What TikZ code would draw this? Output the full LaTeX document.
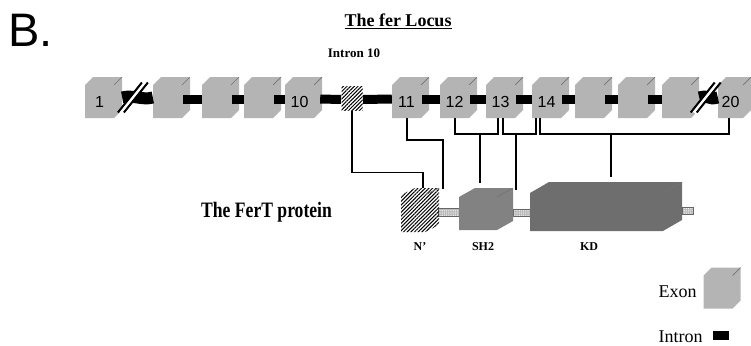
\documentclass[tikz,border=0pt]{standalone}
\usepackage{fontspec}
\setmainfont{Liberation Serif}
\setsansfont{Liberation Sans}
\usetikzlibrary{positioning, patterns.meta, calc}

\definecolor{exongray}{HTML}{B4B4B4}
\definecolor{shgray}{HTML}{828282}
\definecolor{kdgray}{HTML}{6E6E6E}

\begin{document}
\begin{tikzpicture}[
    x=1pt, y=-1pt,
    cube/.style n args={3}{
        inner sep=0pt,
        path picture={
            \fill[#3] ([yshift=-#2]path picture bounding box.north west)
                -- ([xshift=#1]path picture bounding box.north west)
                -- (path picture bounding box.north east)
                -- ([yshift=#2]path picture bounding box.south east)
                -- ([xshift=-#1]path picture bounding box.south east)
                -- (path picture bounding box.south west) -- cycle;
            \draw[facet] (path picture bounding box.north east) -- ++(-#1,-#2);
        },
    },
    facet/.style={draw=black!55, line width=0.7pt},
    exon/.style={minimum width=37pt, minimum height=41pt, cube={8pt}{8pt}{fill=exongray}},
    num/.style={font=\sffamily\fontsize{16}{16}\selectfont, inner sep=0pt, xshift=-4pt, yshift=-4pt},
    intron/.style={line width=9pt, transform canvas={yshift=-1.5pt}},
    wavy/.style={line width=12pt},
    slash/.style={line width=2pt},
    hatch/.style={pattern={Lines[angle=45, distance=2.6pt, line width=1pt]}, pattern color=black},
    link/.style={line width=1.8pt},
    linker/.style={
        inner sep=0pt, draw=black!60, line width=0.4pt,
        preaction={fill=gray!55},
        pattern={Dots[radius=0.6pt, distance=2.2pt]}, pattern color=white,
    },
    domlabel/.style={font=\bfseries\fontsize{12}{12}\selectfont, anchor=base},
    legend/.style={font=\fontsize{18}{18}\selectfont, inner sep=0pt},
]

\useasboundingbox (0,0) rectangle (751,345);

\node[font=\sffamily\fontsize{47}{47}\selectfont, anchor=base west, inner sep=0pt] (panel) at (8,47) {B.};
\node[font=\bfseries\fontsize{18}{18}\selectfont, anchor=base] (title) at (398,27) {\underline{The fer Locus}};
\node[font=\bfseries\fontsize{13}{13}\selectfont, anchor=base] (i10lab) at (354,57) {Intron 10};

% the locus
\def\row{97.5}
\node[exon, label={[num]center:1}] (e1) at (103.5,\row) {};
\node[exon] (e2) at (171.5,\row) {};
\node[exon] (e3) at (220.5,\row) {};
\node[exon] (e4) at (262.5,\row) {};
\node[exon, label={[num]center:10}] (e10) at (303.5,\row) {};
\node[hatch, minimum width=21pt, minimum height=24pt, inner sep=0pt] (i10) at (352,98) {};
\node[exon, label={[num]center:11}] (e11) at (410.5,\row) {};
\node[exon, label={[num]center:12}] (e12) at (458.5,\row) {};
\node[exon, label={[num]center:13}] (e13) at (504.5,\row) {};
\node[exon, label={[num]center:14}] (e14) at (550.5,\row) {};
\node[exon] (e15) at (593.5,\row) {};
\node[exon] (e16) at (636.5,\row) {};
\node[exon] (e17) at (680.5,\row) {};
\node[exon, minimum width=33pt, label={[num]center:20}] (e20) at (734.5,\row) {};

\foreach \a/\b in {e2/e3, e3/e4, e4/e10, e11/e12, e12/e13, e13/e14, e14/e15, e15/e16, e16/e17}
    \draw[intron] ([xshift=-7pt]\a.east) -- (\b.west);
\draw[intron] ([xshift=-2pt]e10.east) -- (i10.west);
\draw[intron] (i10.east) -- (e11.west);

% broken introns
\foreach \a/\b in {e1/e2, e17/e20} {
    \draw[wavy] (\a.east) .. controls +(10,-3) and +(-10,3) .. (\b.west);
    \path (\a.east) -- (\b.west) coordinate[pos=0.35] (brk);
    \draw[white, line width=5pt] ([shift={(-12pt,-15pt)}]brk) -- ([shift={(12pt,15pt)}]brk);
    \draw[slash] ([shift={(-15pt,-15pt)}]brk) -- ([shift={(9pt,15pt)}]brk);
    \draw[slash] ([shift={(-9pt,-15pt)}]brk) -- ([shift={(15pt,15pt)}]brk);
}

% the protein
\node[font=\bfseries\fontsize{22}{22}\selectfont, anchor=base west, inner sep=0pt] (protein) at (201,217) {\scalebox{0.8}[1]{The FerT protein}};

\node[linker, minimum width=21pt, minimum height=8pt] (l1) at (448.5,212) {};
\node[linker, minimum width=17pt, minimum height=7pt] (l2) at (521.5,212.5) {};
\node[linker, minimum width=11pt, minimum height=7pt] (l3) at (687.5,210.5) {};
\node[minimum width=38pt, minimum height=44pt, cube={14pt}{7pt}{hatch}] (nt) at (420,210) {};
\node[minimum width=54pt, minimum height=42pt, cube={16pt}{9pt}{fill=shgray}] (sh2) at (486,209) {};
\node[minimum width=152pt, minimum height=49pt, cube={19pt}{11pt}{fill=kdgray}] (kd) at (606,206.5) {};

\node[domlabel] (ntlab) at (420,250) {N’};
\node[domlabel] (shlab) at (483,250) {SH2};
\node[domlabel] (kdlab) at (589,250) {KD};

% exons to domains
\coordinate (j1) at (443,189);
\coordinate (j2) at (516,190);
\draw[link] (i10.south) -- ++(0,62) -| ([xshift=3pt]nt.north);
\draw[link] ([xshift=-3.5pt]e11.south) -- ++(0,22) -| (j1);
\draw[link] ([xshift=-3.5pt]e12.south) -- ++(0,16) -| ([xshift=-6.5pt]e13.south);
\draw[link] ([xshift=-1.5pt]e13.south) -- ++(0,16) -| ([xshift=-14.5pt]e14.south);
\draw[link] ([xshift=-10.5pt]e14.south) -- ++(0,16) -| ([xshift=-5.5pt]e20.south);
\draw[link] ([xshift=-6pt, yshift=5pt]sh2.north) -- ++(0,-49);
\draw[link] (j2) -- ++(0,-56);
\draw[link] ([xshift=5pt, yshift=5pt]kd.north) -- ++(0,-43);

% legend
\node[exon] (lgexon) at (722,288) {};
\node[legend, left=6.5pt of lgexon, yshift=-3.5pt] (lgexontxt) {Exon};
\node[fill=black, inner sep=0pt, minimum width=16pt, minimum height=9pt] (lgintron) at (721,335.5) {};
\node[legend, left=10pt of lgintron, yshift=-1pt] (lgintrontxt) {Intron};

\end{tikzpicture}
\end{document}
